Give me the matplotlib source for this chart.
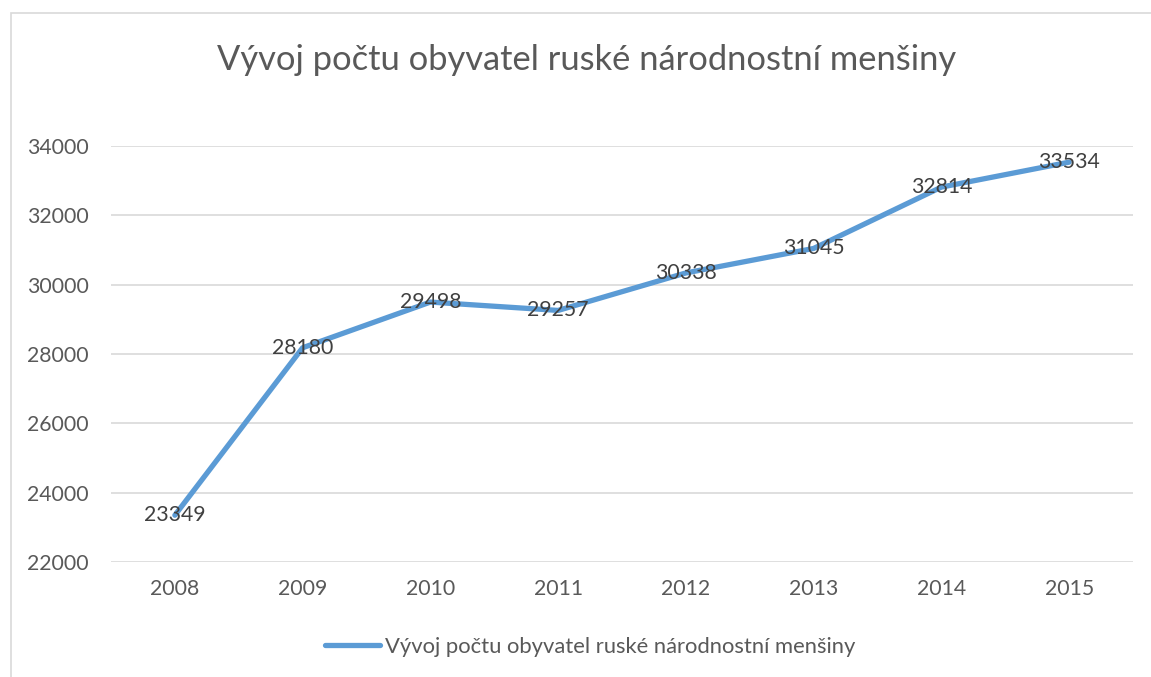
import matplotlib
matplotlib.use("Agg")
import matplotlib.pyplot as plt
from matplotlib.patches import Rectangle

# Data
roky = ["2008", "2009", "2010", "2011", "2012", "2013", "2014", "2015"]
obyvatele = [23349, 28180, 29498, 29257, 30338, 31045, 32814, 33534]
nazev = "Vývoj počtu obyvatel ruské národnostní menšiny"

plt.rcParams["font.family"] = ["Lato", "DejaVu Sans"]

W, H = 1151, 677
fig = plt.figure(figsize=(W / 100, H / 100), dpi=100)

# rámeček grafu
fig.patches.append(Rectangle((11 / W, -0.1), 1.2, 1 - 13 / H + 0.1, transform=fig.transFigure,
                             fill=False, edgecolor="#d9d9d9", linewidth=1.2))

ax = fig.add_axes([111 / W, 1 - 562 / H, (1133 - 111) / W, (562 - 146) / H])
x = list(range(len(roky)))
ax.plot(x, obyvatele, color="#5B9BD5", linewidth=3.8, solid_capstyle="round", label=nazev)

for xi, yi in zip(x, obyvatele):
    ax.text(xi, yi, str(yi), ha="center", va="center", fontsize=15.3, color="#404040")

ax.set_xlim(-0.5, len(roky) - 0.5)
ax.set_ylim(22000, 34000)
ax.set_yticks(range(22000, 34001, 2000))
ax.set_xticks(x)
ax.set_xticklabels(roky)
ax.tick_params(axis="both", length=0, labelsize=15.3, labelcolor="#595959")
ax.tick_params(axis="y", pad=16)
ax.tick_params(axis="x", pad=12)
ax.grid(axis="y", color="#d9d9d9", linewidth=1.2)
ax.set_axisbelow(True)
for s in ax.spines.values():
    s.set_visible(False)

fig.text(587 / W, 1 - 60 / H, nazev, ha="center", va="center", fontsize=24.8, color="#595959")

leg = ax.legend(loc="center", bbox_to_anchor=((590 - 111) / 1022, (562 - 647) / (562 - 146)),
                frameon=False, fontsize=15.8, handlelength=2.5, handletextpad=0.22)
for t in leg.get_texts():
    t.set_color("#595959")

plt.savefig("out.png", dpi=100)
